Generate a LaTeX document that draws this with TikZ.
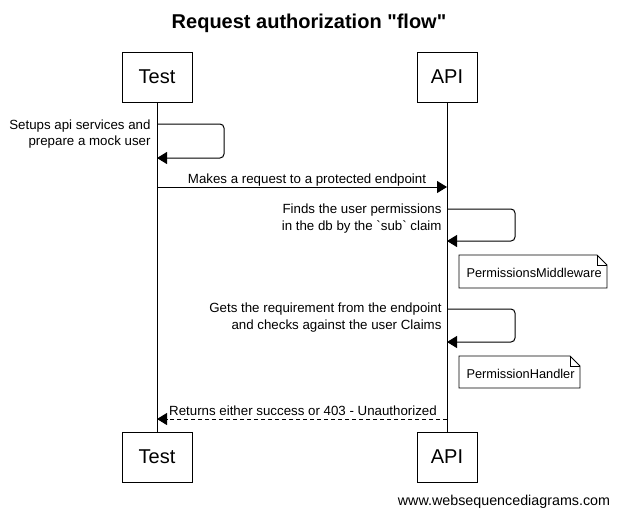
\documentclass[tikz,border=0pt]{standalone}
\usepackage{fontspec}
\setmainfont{Liberation Sans}[Ligatures=TeXOff]
\usetikzlibrary{arrows.meta}
\begin{document}
\begin{tikzpicture}[x=1pt,y=-1pt,line width=1pt,
  actor/.style={draw,minimum height=50pt,inner sep=0pt,font=\fontsize{20}{24}\selectfont},
  lbl/.style={inner sep=0pt,font=\fontsize{13.3}{16.5}\selectfont},
  notetext/.style={inner sep=0pt,font=\fontsize{12.8}{16}\selectfont},
  msg/.style={-{Triangle[length=10pt,width=12pt]}},
  selfmsg/.style={-{Triangle[length=10pt,width=12pt]},rounded corners=4pt},
  retmsg/.style={-{Triangle[length=10pt,width=12pt]},dash pattern=on 4pt off 3pt},
  notebox/.style={line width=0.8pt,fill=white}]
\useasboundingbox (0,0) rectangle (617,515);
% title
\node[inner sep=0pt,anchor=base,font=\fontsize{20}{24}\selectfont\bfseries] (title) at (309,28) {Request authorization "flow"};
% actors
\node[actor,minimum width=70pt] (testtop) at (157,77) {Test};
\node[actor,minimum width=60pt] (apitop) at (447,77) {API};
\node[actor,minimum width=70pt] (testbot) at (157,457) {Test};
\node[actor,minimum width=60pt] (apibot) at (447,457) {API};
% lifelines
\draw (testtop.south) -- (testbot.north);
\draw (apitop.south) -- (apibot.north);
% message 1 (self)
\coordinate (m1a) at (157,124);
\coordinate (m1b) at (224,124);
\coordinate (m1c) at (224,158);
\coordinate (m1d) at (157,158);
\draw[selfmsg] (m1a) -- (m1b) -- (m1c) -- (m1d);
\node[lbl,anchor=east,align=right] (l1) at (151,134) {Setups api services and\\prepare a mock user};
% message 2
\coordinate (m2a) at (157,187);
\coordinate (m2b) at (447,187);
\draw[msg] (m2a) -- (m2b);
\node[lbl,anchor=base] (l2) at (307,183) {Makes a request to a protected endpoint};
% message 3 (self)
\coordinate (m3a) at (447,209);
\coordinate (m3b) at (515,209);
\coordinate (m3c) at (515,241);
\coordinate (m3d) at (447,241);
\draw[selfmsg] (m3a) -- (m3b) -- (m3c) -- (m3d);
\node[lbl,anchor=east,align=right] (l3) at (442,218.5) {Finds the user permissions\\in the db by the `sub` claim};
% note 1
\coordinate (n1a) at (459,255);
\coordinate (n1b) at (597,255);
\coordinate (n1c) at (607,265);
\coordinate (n1d) at (607,288);
\coordinate (n1e) at (459,288);
\draw[notebox] (n1a) -- (n1b) -- (n1c) -- (n1d) -- (n1e) -- cycle;
\draw[line width=0.8pt] (n1b) |- (n1c);
\node[notetext,anchor=base west] (t1) at (466,277) {PermissionsMiddleware};
% message 4 (self)
\coordinate (m4a) at (447,309);
\coordinate (m4b) at (515,309);
\coordinate (m4c) at (515,342);
\coordinate (m4d) at (447,342);
\draw[selfmsg] (m4a) -- (m4b) -- (m4c) -- (m4d);
\node[lbl,anchor=east,align=right] (l4) at (442,317.5) {Gets the requirement from the endpoint\\and checks against the user Claims};
% note 2
\coordinate (n2a) at (459,356);
\coordinate (n2b) at (570,356);
\coordinate (n2c) at (580,366);
\coordinate (n2d) at (580,388);
\coordinate (n2e) at (459,388);
\draw[notebox] (n2a) -- (n2b) -- (n2c) -- (n2d) -- (n2e) -- cycle;
\draw[line width=0.8pt] (n2b) |- (n2c);
\node[notetext,anchor=base west] (t2) at (466,378) {PermissionHandler};
% return
\coordinate (m5a) at (447,419);
\coordinate (m5b) at (157,419);
\draw[retmsg] (m5a) -- (m5b);
\node[lbl,anchor=base] (l5) at (303,415) {Returns either success or 403 - Unauthorized};
% footer
\node[inner sep=0pt,anchor=base,font=\fontsize{14.3}{16}\selectfont] (footer) at (504,505) {www.websequencediagrams.com};
\end{tikzpicture}
\end{document}
